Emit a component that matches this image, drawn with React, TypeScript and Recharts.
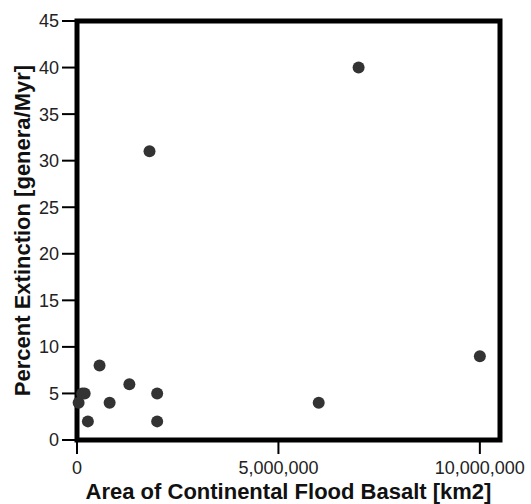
import { ScatterChart, Scatter, XAxis, YAxis, ReferenceArea } from 'recharts';

// area of flood basalt [km2] vs extinction rate
const areaKm2 = [40000, 130000, 190000, 270000, 560000, 810000, 1300000, 1800000, 1990000, 1990000, 6000000, 6990000, 10000000];
const extinction = [4, 5, 5, 2, 8, 4, 6, 31, 5, 2, 4, 40, 9];
const xTicks = [0, 5000000, 10000000];
const yTicks = [0, 5, 10, 15, 20, 25, 30, 35, 40, 45];

const data = areaKm2.map((x, i) => ({ x, y: extinction[i] }));

const FONT = '"Liberation Sans", Arial, Helvetica, sans-serif';

function Dot(props: any) {
  return <circle cx={props.cx} cy={props.cy} r={6} fill="#333" />;
}

function YTitle(props: any) {
  const vb = props.viewBox || {};
  const cy = vb.y + vb.height / 2;
  return (
    <text
      x={30}
      y={cy}
      transform={`rotate(-90, 30, ${cy})`}
      textAnchor="middle"
      fontFamily={FONT}
      fontSize={22}
      fontWeight="bold"
      fill="#111"
    >
      Percent Extinction [genera/Myr]
    </text>
  );
}

export default function App() {
  return (
    <div style={{ position: 'absolute', left: 0, top: 0, background: '#fff' }}>
      <ScatterChart width={531} height={504} margin={{ top: 21, right: 31, bottom: 0, left: 0 }}>
        <XAxis
          type="number"
          dataKey="x"
          domain={[0, 10500000]}
          ticks={xTicks}
          tickFormatter={(v: number) => v.toLocaleString('en-US')}
          height={64}
          axisLine={false}
          tickSize={14}
          tickMargin={7}
          tickLine={{ stroke: '#000', strokeWidth: 2 }}
          tick={{ fill: '#222', fontSize: 18, fontFamily: FONT }}
          label={{
            value: 'Area of Continental Flood Basalt [km2]',
            position: 'insideBottom',
            offset: 5,
            fill: '#111',
            fontSize: 22,
            fontWeight: 'bold',
            fontFamily: FONT,
          }}
        />
        <YAxis
          type="number"
          dataKey="y"
          domain={[0, 45]}
          ticks={yTicks}
          width={77}
          axisLine={false}
          tickSize={15}
          tickMargin={3}
          tickLine={{ stroke: '#000', strokeWidth: 2 }}
          tick={{ fill: '#222', fontSize: 18, fontFamily: FONT }}
          label={<YTitle />}
        />
        <ReferenceArea
          x1={0}
          x2={10500000}
          y1={0}
          y2={45}
          fill="none"
          stroke="#000"
          strokeWidth={5}
          fillOpacity={0}
        />
        <Scatter data={data} shape={<Dot />} isAnimationActive={false} />
      </ScatterChart>
    </div>
  );
}
